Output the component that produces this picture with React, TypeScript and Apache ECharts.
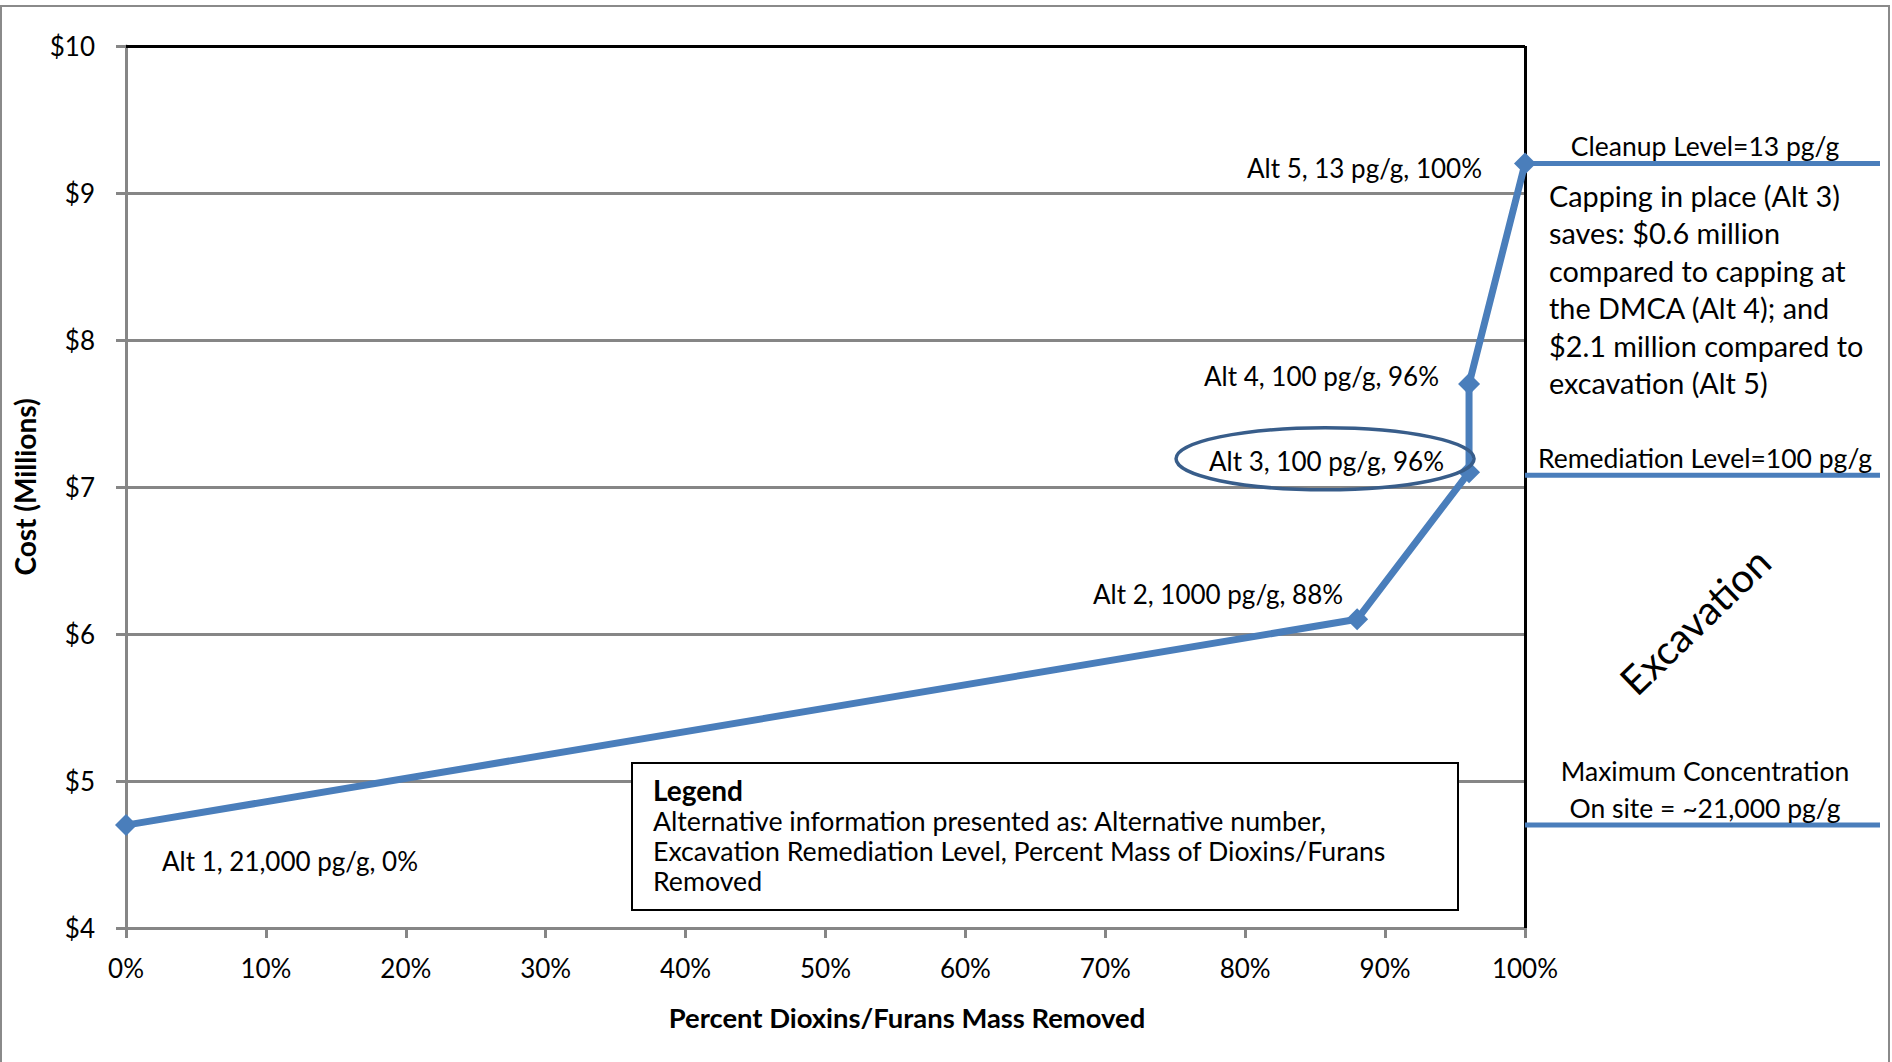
import React, { useEffect, useRef } from "react";
import * as echarts from "echarts";

// ---- data ----
const percentRemoved = [0, 88, 96, 96, 100];
const costMillions = [4.7, 6.1, 7.1, 7.7, 9.2];
const altLabels = [
  "Alt 1, 21,000 pg/g, 0%",
  "Alt 2, 1000 pg/g, 88%",
  "Alt 3, 100 pg/g, 96%",
  "Alt 4, 100 pg/g, 96%",
  "Alt 5, 13 pg/g, 100%",
];
const xRange = [0, 100];
const xStep = 10;
const yRange = [4, 10];
const yStep = 1;
const levelValues = [9.2, 7.08, 4.7];
const levelTexts = [
  "Cleanup Level=13 pg/g",
  "Remediation Level=100 pg/g",
  "Maximum Concentration\nOn site = ~21,000 pg/g",
];
const savingsNote =
  "Capping in place (Alt 3)\nsaves: $0.6 million\ncompared to capping at\nthe DMCA (Alt 4); and\n$2.1 million compared to\nexcavation (Alt 5)";
const legendTitle = "Legend";
const legendBody =
  "Alternative information presented as: Alternative number,\nExcavation Remediation Level, Percent Mass of Dioxins/Furans\nRemoved";
const xTitle = "Percent Dioxins/Furans Mass Removed";
const yTitle = "Cost (Millions)";
const zoneText = "Excavation";

const FONT = "Lato, 'Open Sans', sans-serif";
const BLUE = "#4A7EBB";
const GRID = "#868686";

export default function App() {
  const ref = useRef<HTMLDivElement>(null);
  useEffect(() => {
    const chart = echarts.init(ref.current!, null, { renderer: "svg" });
    const labelPlacement: any[] = [
      { align: "left", offset: [36, 36] },
      { align: "right", offset: [-14, -25] },
      { align: "right", offset: [-25, -11] },
      { align: "right", offset: [-30, -8] },
      { align: "right", offset: [-43, 4] },
    ];
    const data = percentRemoved.map((x, i) => ({
      value: [x, costMillions[i]],
      label: {
        show: true,
        position: "inside",
        formatter: altLabels[i],
        align: labelPlacement[i].align,
        verticalAlign: "middle",
        offset: labelPlacement[i].offset,
        color: "#000",
        fontSize: 26,
        fontFamily: FONT,
      },
    }));
    chart.setOption({
      animation: false,
      backgroundColor: "#fff",
      grid: {
        left: 126,
        right: 367,
        top: 46,
        bottom: 134,
        containLabel: false,
        outerBoundsMode: "none",
      },
      xAxis: {
        type: "value",
        min: xRange[0],
        max: xRange[1],
        interval: xStep,
        axisLine: { show: true, onZero: false, lineStyle: { color: GRID, width: 3 } },
        axisTick: { show: true, length: 10, lineStyle: { color: GRID, width: 3 } },
        axisLabel: { formatter: "{value}%", color: "#000", fontSize: 26, fontFamily: FONT, margin: 27 },
        splitLine: { show: false },
      },
      yAxis: {
        type: "value",
        min: yRange[0],
        max: yRange[1],
        interval: yStep,
        axisLine: { show: true, onZero: false, lineStyle: { color: GRID, width: 3 } },
        axisTick: { show: true, length: 10, lineStyle: { color: GRID, width: 3 } },
        axisLabel: { formatter: "${value}", color: "#000", fontSize: 26, fontFamily: FONT, margin: 31 },
        splitLine: { show: true, lineStyle: { color: GRID, width: 3 } },
        name: yTitle,
        nameLocation: "middle",
        nameGap: 87,
        nameRotate: 90,
        nameTextStyle: { color: "#000", fontSize: 28, fontWeight: "bold", fontFamily: FONT },
      },
      series: [
        {
          type: "line",
          data,
          symbol: "diamond",
          symbolSize: 22,
          lineStyle: { color: BLUE, width: 7 },
          itemStyle: { color: BLUE },
          z: 5,
          markLine: {
            silent: true,
            symbol: ["none", "none"],
            label: { show: false },
            lineStyle: { color: "#000", width: 3, type: "solid" },
            data: [{ yAxis: yRange[1] }, { xAxis: xRange[1] }],
          },
        },
      ],
    });

    const px = (x: number, y: number) =>
      chart.convertToPixel({ xAxisIndex: 0, yAxisIndex: 0 }, [x, y]) as number[];
    const right = 1880;
    const graphics: any[] = [
      {
        type: "rect",
        shape: { x: 1, y: 6, width: 1888, height: 1070 },
        style: { fill: "none", stroke: "#8a8a8a", lineWidth: 2 },
        z: 0,
      },
    ];
    const textCenterX = 1705;
    levelValues.forEach((v, i) => {
      const p = px(xRange[1], v);
      graphics.push({
        type: "line",
        shape: { x1: p[0], y1: p[1], x2: right, y2: p[1] },
        style: { stroke: BLUE, lineWidth: 5 },
        z: 50,
      });
      graphics.push({
        type: "text",
        x: textCenterX,
        y: p[1] + 1,
        style: {
          text: levelTexts[i],
          fill: "#000",
          fontSize: 26.5,
          fontFamily: FONT,
          lineHeight: 37,
          align: "center",
          textAlign: "center",
          verticalAlign: "bottom",
          textVerticalAlign: "bottom",
        },
        z: 50,
      });
    });
    graphics.push({
      type: "text",
      x: 1549,
      y: 177,
      style: {
        text: savingsNote,
        fill: "#000",
        fontSize: 28.8,
        fontFamily: FONT,
        lineHeight: 37.5,
        align: "left",
        textAlign: "left",
        verticalAlign: "top",
        textVerticalAlign: "top",
      },
      z: 50,
    });
    graphics.push({
      type: "text",
      x: 1695,
      y: 621,
      rotation: (44 * Math.PI) / 180,
      style: {
        text: zoneText,
        fill: "#000",
        fontSize: 40,
        fontFamily: FONT,
        align: "center",
        textAlign: "center",
        verticalAlign: "middle",
        textVerticalAlign: "middle",
      },
      z: 50,
    });
    const a3 = px(percentRemoved[2], costMillions[2]);
    graphics.push({
      type: "ellipse",
      shape: { cx: a3[0] - 144, cy: a3[1] - 13.5, rx: 149, ry: 31 },
      style: { fill: "none", stroke: "#385D8A", lineWidth: 3.5 },
      z: 60,
    });
    graphics.push({
      type: "rect",
      shape: { x: 632, y: 763, width: 826, height: 147 },
      style: { fill: "#fff", stroke: "#000", lineWidth: 2 },
      z: 60,
    });
    graphics.push({
      type: "text",
      x: 653,
      y: 790,
      style: {
        text: legendTitle,
        fill: "#000",
        fontSize: 28,
        fontWeight: "bold",
        fontFamily: FONT,
        align: "left",
        textAlign: "left",
        verticalAlign: "middle",
        textVerticalAlign: "middle",
      },
      z: 61,
    });
    graphics.push({
      type: "text",
      x: 653,
      y: 805.5,
      style: {
        text: legendBody,
        fill: "#000",
        fontSize: 26.7,
        fontFamily: FONT,
        lineHeight: 30.2,
        align: "left",
        textAlign: "left",
        verticalAlign: "top",
        textVerticalAlign: "top",
      },
      z: 61,
    });
    graphics.push({
      type: "text",
      x: 907,
      y: 1017,
      style: {
        text: xTitle,
        fill: "#000",
        fontSize: 27.4,
        fontWeight: "bold",
        fontFamily: FONT,
        align: "center",
        textAlign: "center",
        verticalAlign: "middle",
        textVerticalAlign: "middle",
      },
      z: 50,
    });
    chart.setOption({ graphic: { elements: graphics } });

    return () => chart.dispose();
  }, []);
  return (
    <div
      ref={ref}
      style={{ position: "absolute", left: 0, top: 0, width: 1892, height: 1062 }}
    />
  );
}
